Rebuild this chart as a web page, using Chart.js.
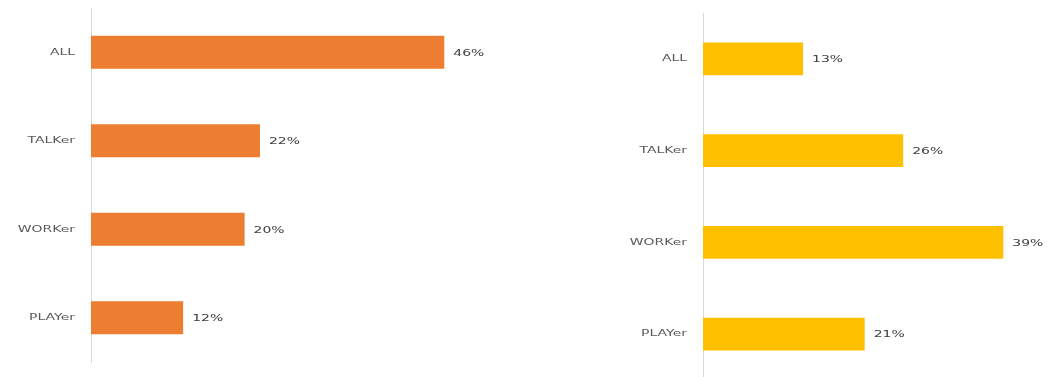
<!DOCTYPE html>
<html>
<head>
<meta charset="utf-8">
<script src="https://cdn.jsdelivr.net/npm/chart.js@4/dist/chart.umd.min.js"></script>
<style>
    html, body { margin: 0; padding: 0; background: #fff; overflow: hidden; }
    body { width: 1051px; height: 377px; position: relative; }
    .panel { position: absolute; top: 0; }
</style>
</head>
<body>
<div class="panel" style="left:0;width:520px;height:377px"><canvas id="left"></canvas></div>
<div class="panel" style="left:530px;width:521px;height:390px"><canvas id="right"></canvas></div>
<script>
// Chart data
const categories = ['ALL', 'TALKer', 'WORKer', 'PLAYer'];
const leftValues = [46, 22, 20, 12];
const rightValues = [13, 26, 39, 21];

Chart.defaults.font.family = "'DejaVu Sans', sans-serif";
Chart.defaults.animation = false;

// The source text is wide and short, so draw it stretched
const STRETCH = 1.55;

function drawStretched(ctx, text, x, y, align, color) {
    ctx.save();
    ctx.translate(x, y);
    ctx.scale(STRETCH, 1);
    ctx.font = "9px 'DejaVu Sans', sans-serif";
    ctx.fillStyle = color;
    ctx.textAlign = align;
    ctx.textBaseline = 'middle';
    ctx.fillText(text, 0, 0);
    ctx.restore();
}

// Category names left of the axis and percentage labels after each bar
const labelPlugin = {
    id: 'barLabels',
    afterDatasetsDraw(chart) {
        const ctx = chart.ctx;
        const yScale = chart.scales.y;
        const left = chart.chartArea.left;
        chart.data.labels.forEach((label, i) => {
            drawStretched(ctx, label, left - 16, yScale.getPixelForValue(i), 'right', '#595959');
        });
        const meta = chart.getDatasetMeta(0);
        meta.data.forEach((bar, i) => {
            const value = chart.data.datasets[0].data[i];
            drawStretched(ctx, value + '%', bar.x + 9, bar.y + 1, 'left', '#404040');
        });
    }
};

function makeChart(canvasId, values, color, axisWidth, xMax, barPct, padding) {
    return new Chart(document.getElementById(canvasId), {
        type: 'bar',
        data: {
            labels: categories,
            datasets: [{
                data: values,
                backgroundColor: color,
                borderWidth: 0,
                categoryPercentage: 1,
                barPercentage: barPct
            }]
        },
        options: {
            indexAxis: 'y',
            responsive: true,
            maintainAspectRatio: false,
            layout: { padding: padding },
            plugins: {
                legend: { display: false },
                tooltip: { enabled: false }
            },
            scales: {
                x: {
                    display: false,
                    min: 0,
                    max: xMax
                },
                y: {
                    grid: { display: false },
                    border: { display: true, color: '#d9d9d9', width: 1 },
                    ticks: { display: false },
                    afterFit(scale) { scale.width = axisWidth; }
                }
            }
        },
        plugins: [labelPlugin]
    });
}

makeChart('left', leftValues, '#ED7D31', 91, 50, 0.373, { top: 8, bottom: 15, left: 0, right: 45 });
makeChart('right', rightValues, '#FFC000', 173, 40, 0.355, { top: 13, bottom: 10, left: 0, right: 40 });
</script>
</body>
</html>
